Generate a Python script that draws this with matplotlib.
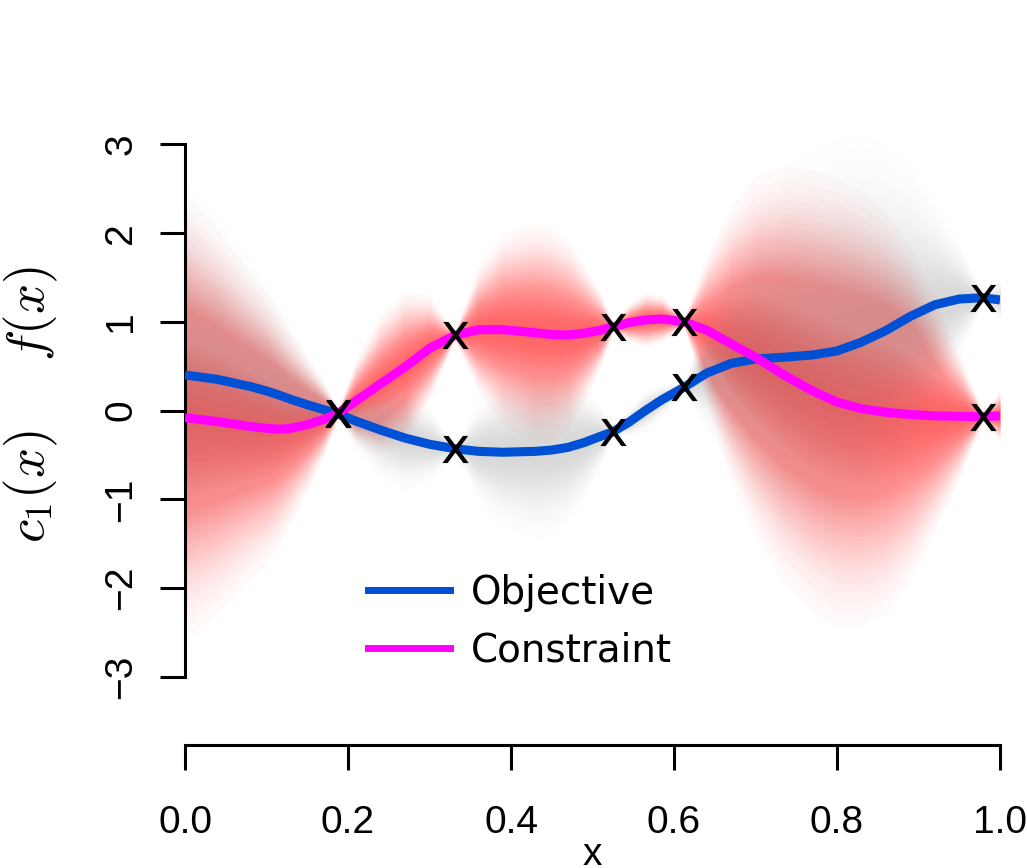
import numpy as np
import matplotlib
matplotlib.use("Agg")
import matplotlib.pyplot as plt
from matplotlib.font_manager import FontProperties
from matplotlib.textpath import TextPath
from matplotlib.path import Path
from matplotlib.lines import Line2D

plt.rcParams["mathtext.fontset"] = "cm"

# posterior mean / sd of the two GPs
x_grid = [0.00, 0.04, 0.08, 0.10, 0.115, 0.13, 0.15, 0.17, 0.188, 0.21, 0.24,
          0.27, 0.30, 0.331, 0.36, 0.39, 0.43, 0.45, 0.47, 0.49, 0.51,
          0.525, 0.545, 0.565, 0.585, 0.612, 0.64, 0.67, 0.70, 0.735, 0.77,
          0.80, 0.83, 0.86, 0.89, 0.92, 0.95, 0.979, 1.00]
obj_mean = [0.40, 0.35, 0.27, 0.22, 0.175, 0.125, 0.065, 0.01, -0.04, -0.12, -0.22,
            -0.31, -0.38, -0.43, -0.46, -0.47, -0.46, -0.445, -0.415, -0.36, -0.29,
            -0.24, -0.13, 0.00, 0.12, 0.26, 0.42, 0.53, 0.58, 0.60, 0.625,
            0.67, 0.77, 0.90, 1.06, 1.19, 1.255, 1.27, 1.245]
obj_sd = [0.90, 0.78, 0.62, 0.53, 0.45, 0.37, 0.25, 0.14, 0.02, 0.14, 0.24,
          0.26, 0.18, 0.02, 0.24, 0.36, 0.42, 0.41, 0.37, 0.28, 0.15,
          0.02, 0.07, 0.10, 0.08, 0.02, 0.28, 0.52, 0.72, 0.88, 0.97,
          1.00, 0.98, 0.88, 0.72, 0.50, 0.28, 0.02, 0.10]
con_mean = [-0.08, -0.125, -0.18, -0.20, -0.21, -0.20, -0.16, -0.10, -0.03, 0.11, 0.30,
            0.49, 0.70, 0.845, 0.91, 0.91, 0.875, 0.855, 0.85, 0.87, 0.905,
            0.94, 0.99, 1.02, 1.03, 1.00, 0.905, 0.75, 0.60, 0.40, 0.22,
            0.095, 0.02, -0.02, -0.045, -0.06, -0.065, -0.07, -0.06]
con_sd = [1.05, 0.90, 0.72, 0.64, 0.55, 0.45, 0.32, 0.18, 0.02, 0.20, 0.33,
          0.36, 0.25, 0.02, 0.30, 0.45, 0.52, 0.50, 0.45, 0.33, 0.18,
          0.02, 0.09, 0.13, 0.11, 0.02, 0.35, 0.65, 0.85, 0.98, 1.04,
          1.05, 1.02, 0.94, 0.78, 0.55, 0.30, 0.02, 0.12]

# evaluated design points
x_obs = [0.188, 0.331, 0.525, 0.612, 0.979]
obj_obs = [-0.04, -0.43, -0.24, 0.26, 1.27]
con_obs = [-0.03, 0.845, 0.94, 1.00, -0.07]

x_ticks = [0.0, 0.2, 0.4, 0.6, 0.8, 1.0]
x_ticklabels = ["0.0", "0.2", "0.4", "0.6", "0.8", "1.0"]
y_ticks = [-3, -2, -1, 0, 1, 2, 3]
y_ticklabels = ["\u22123", "\u22122", "\u22121", "0", "1", "2", "3"]

BLUE = "#0050d5"
MAGENTA = "#ff00ff"
W, H = 1027, 868


def density_band(ax, x, mean, sd, rgb, peak, zorder, n=40, zmax=2.4):
    # stack of nested translucent bands -> opacity fades like a gaussian in z,
    # cut off at zmax standard deviations
    mean = np.asarray(mean)
    sd = np.asarray(sd)
    a = 1 - (1 - peak) ** (1 / n)
    u = np.linspace(np.exp(-0.5 * zmax ** 2), 0.99, n)
    for uk in u:
        zk = np.sqrt(-2 * np.log(uk))
        ax.fill_between(x, mean - zk * sd, mean + zk * sd, color=rgb,
                        alpha=a, lw=0, zorder=zorder)


fig = plt.figure(figsize=(W / 100, H / 100), dpi=100)
ax = fig.add_axes([185 / W, 1 - 745 / H, 815 / W, 645 / H])
ax.set_xlim(0, 1)
ax.set_ylim((410.5 - 745) / 88.83, (410.5 - 100) / 88.83)

density_band(ax, x_grid, con_mean, con_sd, (1.0, 0.0, 0.0), 0.52, 1)
density_band(ax, x_grid, obj_mean, obj_sd, (0.0, 0.55, 0.55), 0.2, 2)

ax.plot(x_grid, obj_mean, color=BLUE, lw=6.5, solid_capstyle="butt", zorder=3)
ax.plot(x_grid, con_mean, color=MAGENTA, lw=6.5, solid_capstyle="butt", zorder=4)

# "x" markers drawn from the glyph outline so they sit centred on the points
glyph = TextPath((0, 0), "x", prop=FontProperties(family="DejaVu Sans"))
ext = glyph.get_extents()
xmark = Path(glyph.vertices - [(ext.x0 + ext.x1) / 2, (ext.y0 + ext.y1) / 2], glyph.codes)
ax.plot(x_obs, obj_obs, ls="none", marker=xmark, ms=21, mfc="k", mec="k", mew=0, zorder=5)
ax.plot(x_obs, con_obs, ls="none", marker=xmark, ms=21, mfc="k", mec="k", mew=0, zorder=5)

for side in ["top", "right"]:
    ax.spines[side].set_visible(False)
ax.spines["left"].set_bounds(-3, 3)
ax.spines["bottom"].set_bounds(0, 1)
ax.spines["left"].set_linewidth(2.2)
ax.spines["bottom"].set_linewidth(2.2)

ax.set_xticks(x_ticks)
ax.set_xticklabels(x_ticklabels, fontfamily="Liberation Sans", fontsize=28)
ax.set_yticks(y_ticks)
ax.set_yticklabels(y_ticklabels, fontfamily="Liberation Sans", fontsize=28,
                   rotation=90, va="center")
ax.tick_params(axis="both", direction="out", length=18, width=2.2)
ax.tick_params(axis="x", pad=25)
ax.tick_params(axis="y", pad=15)

fig.text(592.5 / W, 3 / H, "x", ha="center", va="baseline",
         fontfamily="Liberation Sans", fontsize=28)
fig.text(31 / W, 1 - 405 / H, "$c_1(x)$    $f(x)$", rotation=90,
         ha="center", va="center", fontsize=38)

handles = [Line2D([], [], color=BLUE, lw=5), Line2D([], [], color=MAGENTA, lw=5)]
ax.legend(handles, ["Objective", "Constraint"], loc="upper left",
          bbox_to_anchor=(368 / W, 1 - 574 / H), bbox_transform=fig.transFigure,
          frameon=False, prop=FontProperties(family="DejaVu Sans", size=28),
          handlelength=2.1, handletextpad=0.55, labelspacing=0.5,
          borderpad=0, borderaxespad=0)

fig.savefig("out.png", dpi=100)
